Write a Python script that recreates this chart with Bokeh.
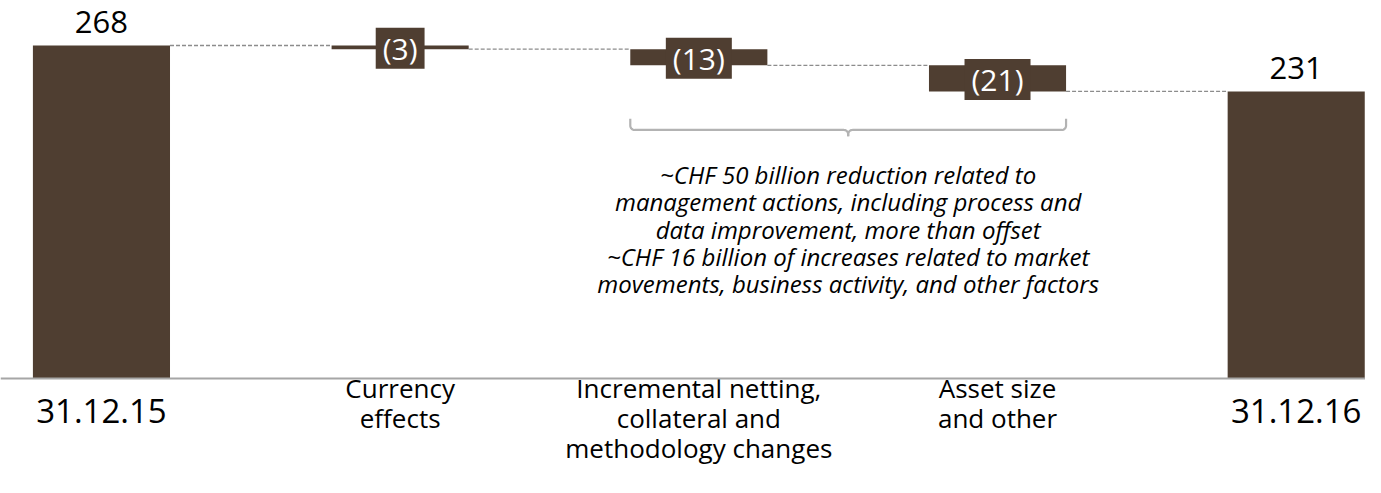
import numpy as np
from bokeh.plotting import figure
from bokeh.models import ColumnDataSource, Span, Range1d
from bokeh.core.properties import value
from bokeh.embed import file_html
from bokeh.resources import INLINE

# ---------------- data ----------------
categories = [
    "31.12.15",
    "Currency\neffects",
    "Incremental netting,\ncollateral and\nmethodology changes",
    "Asset size\nand other",
    "31.12.16",
]
start_value = 268
changes = [-3, -13, -21]
end_value = 231
change_labels = ["(3)", "(13)", "(21)"]
total_labels = ["268", "231"]
note = ("~CHF 50 billion reduction related to\n"
        "management actions, including process and\n"
        "data improvement, more than offset\n"
        "~CHF 16 billion of increases related to market\n"
        "movements, business activity, and other factors")

# ---------------- styling ----------------
BAR = "#4f3e31"
FONT = "Open Sans"
W = 0.459  # bar width in category units

levels = [start_value]
for c in changes:
    levels.append(levels[-1] + c)
n = len(categories)
xs = list(range(n))

p = figure(width=1365, height=477,
           x_range=Range1d(-0.338, 4.232), y_range=Range1d(-79.7, 304.2),
           output_backend="svg", toolbar_location=None,
           min_border=0, min_border_left=0, min_border_right=0,
           min_border_top=0, min_border_bottom=0,
           outline_line_color=None)
p.axis.visible = False
p.grid.visible = False

# baseline
p.add_layout(Span(location=0, dimension="width", line_color="#a6a6a6", line_width=2))

# total bars
tot = ColumnDataSource(dict(x=[xs[0], xs[-1]], top=[start_value, end_value],
                            lab=total_labels))
p.vbar(x="x", top="top", bottom=0, width=W, source=tot, fill_color=BAR, line_color=None)
p.text(x="x", y="top", text="lab", source=tot, text_align="center",
       text_baseline="bottom", y_offset=-12, text_font=value(FONT),
       text_font_size="31px", text_color="#000000")

# change bars
chg = ColumnDataSource(dict(
    x=xs[1:-1],
    top=levels[:-1],
    bottom=levels[1:],
    mid=[(a + b) / 2 for a, b in zip(levels[:-1], levels[1:])],
    lab=change_labels,
))
p.vbar(x="x", top="top", bottom="bottom", width=W, source=chg,
       fill_color=BAR, line_color=None)
p.text(x="x", y="mid", text="lab", source=chg, text_align="center",
       text_baseline="middle", y_offset=1, text_font=value(FONT), text_font_size="30px",
       text_color="white", background_fill_color=BAR,
       padding=dict(left=7, right=7, top=0, bottom=0))

# connectors
con = ColumnDataSource(dict(
    x0=[i + W / 2 for i in xs[:-1]],
    x1=[i + 1 - W / 2 for i in xs[:-1]],
    y=levels,
))
p.segment(x0="x0", y0="y", x1="x1", y1="y", source=con,
          line_color="#8c8c8c", line_width=1.3, line_dash="4 2")

# category labels
mid_src = ColumnDataSource(dict(x=xs[1:-1], y=[0] * (n - 2), t=categories[1:-1]))
p.text(x="x", y="y", text="t", source=mid_src, text_align="center",
       text_baseline="top", y_offset=-8, text_font=value(FONT),
       text_font_size="26px", text_line_height=0.82, text_color="#000000")
end_src = ColumnDataSource(dict(x=[xs[0], xs[-1]], y=[0, 0], t=[categories[0], categories[-1]]))
p.text(x="x", y="y", text="t", source=end_src, text_align="center",
       text_baseline="middle", y_offset=33, text_font=value(FONT),
       text_font_size="33px", text_color="#000000")

# brace under the two management-action bars
bx0 = xs[2] - W / 2
bx1 = xs[3] + W / 2
bxm = (bx0 + bx1) / 2
ytop = levels[-1] - 22
yh = ytop - 9
ytip = yh - 5
rx, ry = 0.014, 3.5
t = np.linspace(0, np.pi / 2, 8)
bx, by = [], []
bx += [bx0, bx0]; by += [ytop, yh + ry]
bx += list(bx0 + rx - rx * np.cos(t)); by += list(yh + ry - ry * np.sin(t))
bx += [bxm - rx]; by += [yh]
bx += list(bxm - rx + rx * np.sin(t)); by += list(yh - ry + ry * np.cos(t))
bx += [bxm, bxm]; by += [yh - ry, ytip]
bx2 = [2 * bxm - v for v in bx[::-1]]
by2 = by[::-1]
p.line(bx, by, line_color="#b3b3b3", line_width=2.2)
p.line(bx2, by2, line_color="#b3b3b3", line_width=2.2)

# note
p.text(x=[bxm], y=[ytip], text=[note], text_align="center", text_baseline="top",
       y_offset=22, text_font=value(FONT), text_font_style="italic",
       text_font_size="24px", text_line_height=0.825, text_color="#000000")

open("out.html", "w").write(file_html(p, INLINE))
